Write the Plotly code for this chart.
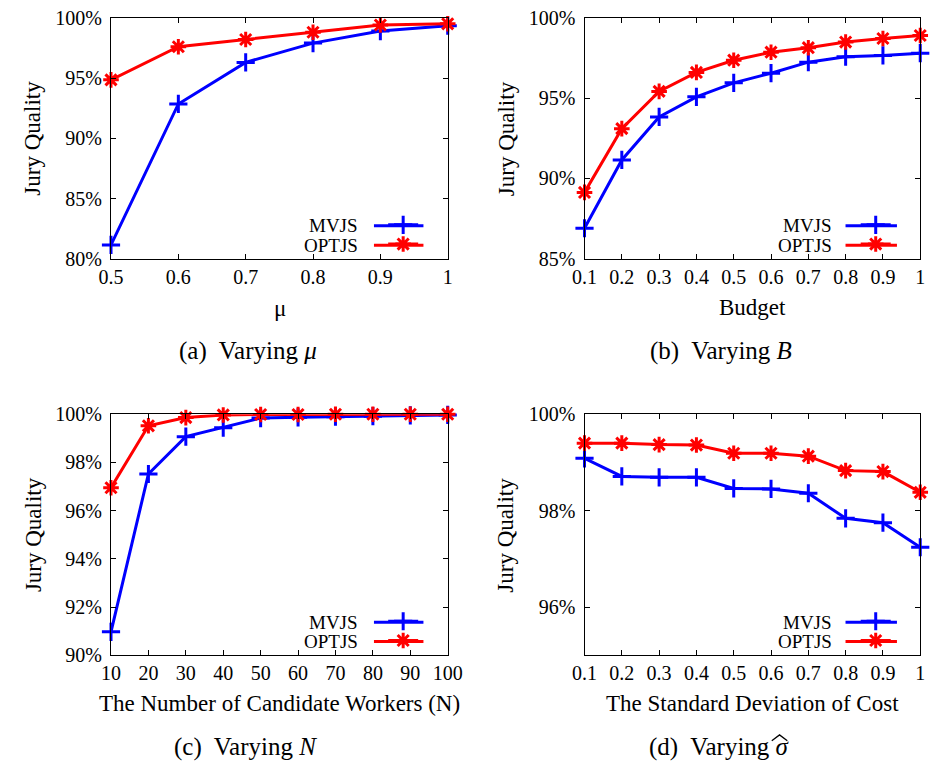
import plotly.graph_objects as go

FONT = "Liberation Serif"
W, H = 943, 776


def px(x):
    return x / W


def py(y):
    return 1 - y / H


# ---------------- data ----------------
mu_x = [0.5, 0.6, 0.7, 0.8, 0.9, 1.0]
mu_ticks = ["0.5", "0.6", "0.7", "0.8", "0.9", "1"]
mu_mvjs = [81.15, 92.85, 96.3, 97.9, 98.9, 99.35]
mu_optjs = [94.85, 97.6, 98.2, 98.8, 99.4, 99.5]

b_x = [0.1, 0.2, 0.3, 0.4, 0.5, 0.6, 0.7, 0.8, 0.9, 1.0]
b_ticks = ["0.1", "0.2", "0.3", "0.4", "0.5", "0.6", "0.7", "0.8", "0.9", "1"]
b_mvjs = [86.9, 91.15, 93.83, 95.08, 95.95, 96.55, 97.24, 97.58, 97.66, 97.8]
b_optjs = [89.13, 93.1, 95.42, 96.6, 97.36, 97.86, 98.14, 98.49, 98.71, 98.9]

n_x = [10, 20, 30, 40, 50, 60, 70, 80, 90, 100]
n_ticks = ["10", "20", "30", "40", "50", "60", "70", "80", "90", "100"]
n_mvjs = [90.97, 97.52, 99.07, 99.44, 99.84, 99.87, 99.9, 99.92, 99.95, 99.97]
n_optjs = [96.95, 99.52, 99.86, 99.97, 99.99, 99.99, 100.0, 100.0, 100.0, 100.0]

s_x = [0.1, 0.2, 0.3, 0.4, 0.5, 0.6, 0.7, 0.8, 0.9, 1.0]
s_ticks = b_ticks
s_mvjs = [99.085, 98.71, 98.69, 98.69, 98.46, 98.45, 98.36, 97.84, 97.75, 97.24]
s_optjs = [99.4, 99.4, 99.37, 99.36, 99.19, 99.19, 99.13, 98.83, 98.81, 98.38]

series_names = ["MVJS", "OPTJS"]
y_title = "Jury Quality"
x_titles = ["μ", "Budget", "The Number of Candidate Workers (N)",
            "The Standard Deviation of Cost"]
captions = ["(a)  Varying <i>μ</i>", "(b)  Varying <i>B</i>",
            "(c)  Varying <i>N</i>", "(d)  Varying <i>σ</i>"]

y_ranges = [[80, 100], [85, 100], [90, 100], [95, 100]]
y_tickvals = [[80, 85, 90, 95, 100], [85, 90, 95, 100],
              [90, 92, 94, 96, 98, 100], [96, 98, 100]]

panels = [
    (mu_x, mu_ticks, mu_mvjs, mu_optjs),
    (b_x, b_ticks, b_mvjs, b_optjs),
    (n_x, n_ticks, n_mvjs, n_optjs),
    (s_x, s_ticks, s_mvjs, s_optjs),
]

# ---------------- layout geometry (page pixels) ----------------
boxes = [(101, 448, 7, 255), (589, 935, 7, 255),
         (101, 448, 415, 663), (589, 935, 415, 663)]
legend_text_right = [358, 846, 358, 846]
legend_sample = [(372, 423), (858, 911), (372, 423), (858, 911)]
legend_rows = [(221, 241), (221, 241), (629, 649), (629, 649)]
caption_pos = [(242, 350), (730, 350), (240, 757), (728, 757)]
xtitle_pos = [(275, 306), (762, 305), (275, 713), (762, 713)]
ytitle_x = [20, 508, 21, 508]

colors = ["#0000ff", "#ff0000"]
symbols = ["cross-thin-open", "asterisk-open"]

fig = go.Figure()
ann = []
shapes = []
for i, (xs, xt, mv, op) in enumerate(panels):
    k = "" if i == 0 else str(i + 1)
    lg = "legend" + k
    for j, ys in enumerate([mv, op]):
        fig.add_trace(go.Scatter(
            x=xs, y=ys, mode="lines+markers", name="",
            xaxis="x" + k, yaxis="y" + k, legend=lg,
            line=dict(color=colors[j], width=3),
            marker=dict(symbol=symbols[j], size=13, color=colors[j],
                        line=dict(color=colors[j], width=3)),
            cliponaxis=False,
        ))
    l, r, t, b = boxes[i]
    axis_common = dict(showline=True, linecolor="black", linewidth=1,
                       mirror="ticks", ticks="inside", ticklen=5,
                       tickcolor="black", showgrid=False, zeroline=False,
                       tickfont=dict(family=FONT, size=20, color="black"))
    s0, s1 = legend_sample[i]
    mid = (s0 + s1) / 2
    fig.update_layout(**{
        "xaxis" + k: dict(domain=[px(l), px(r)], anchor="y" + k,
                          range=[xs[0], xs[-1]], tickvals=xs, ticktext=xt,
                          **axis_common),
        "yaxis" + k: dict(domain=[py(b), py(t)], anchor="x" + k,
                          range=y_ranges[i], tickvals=y_tickvals[i],
                          ticktext=[f"{v}%" for v in y_tickvals[i]],
                          ticklabelstandoff=4,
                          **axis_common),
        lg: dict(x=px(mid - 16), xanchor="left",
                 y=py(legend_rows[i][0] - 16), yanchor="top",
                 bgcolor="rgba(0,0,0,0)", borderwidth=0,
                 font=dict(family=FONT, size=12.5), itemwidth=30,
                 tracegroupgap=0),
    })
    for j in range(2):
        yr = legend_rows[i][j]
        ann.append(dict(text=series_names[j], xref="paper", yref="paper",
                        x=px(legend_text_right[i]), y=py(yr),
                        xanchor="right", yanchor="middle", showarrow=False,
                        font=dict(family=FONT, size=19, color="black")))
        shapes.append(dict(type="line", xref="paper", yref="paper",
                           x0=px(s0), x1=px(s1), y0=py(yr), y1=py(yr),
                           line=dict(color=colors[j], width=3), layer="below"))
    cx, cy = caption_pos[i]
    ann.append(dict(text=captions[i], xref="paper", yref="paper",
                    x=px(cx), y=py(cy), xanchor="center", yanchor="middle",
                    showarrow=False,
                    font=dict(family=FONT, size=25, color="black")))
    tx, ty = xtitle_pos[i]
    ann.append(dict(text=x_titles[i], xref="paper", yref="paper",
                    x=px(tx), y=py(ty), xanchor="center", yanchor="middle",
                    showarrow=False,
                    font=dict(family=FONT, size=23, color="black")))
    ann.append(dict(text=y_title, xref="paper", yref="paper",
                    x=px(ytitle_x[i]), y=py((t + b) / 2),
                    xanchor="center", yanchor="middle", textangle=-90,
                    showarrow=False,
                    font=dict(family=FONT, size=23, color="black")))

# wide hat over the sigma in caption (d), drawn as a small path
hx, hy = 790, 745
shapes.append(dict(type="path", xref="paper", yref="paper",
                   path=f"M {px(hx - 8)},{py(hy + 6)} "
                        f"L {px(hx)},{py(hy)} "
                        f"L {px(hx + 8)},{py(hy + 6)}",
                   line=dict(color="black", width=1.3)))

fig.update_layout(width=W, height=H, margin=dict(l=0, r=0, t=0, b=0),
                  paper_bgcolor="white", plot_bgcolor="white",
                  annotations=ann, shapes=shapes,
                  font=dict(family=FONT, color="black"))
# make sure the page itself adds no margin around the figure
fig.write_html("out.html",
               post_script="document.body.style.margin='0';"
                           "document.body.style.padding='0';")
